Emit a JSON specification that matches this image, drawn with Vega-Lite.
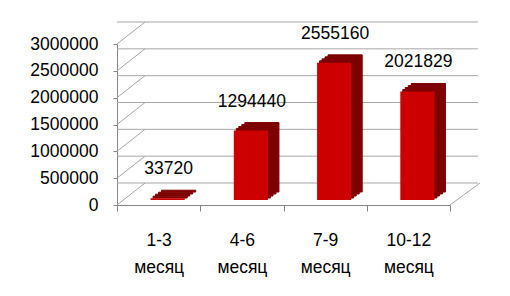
{
  "$schema": "https://vega.github.io/schema/vega-lite/v6.json",
  "width": 333,
  "height": 161,
  "autosize": {"type": "none"},
  "padding": {"left": 117, "top": 44, "right": 60, "bottom": 91},
  "background": "white",
  "config": {
    "view": {"stroke": null},
    "font": "Liberation Sans",
    "axisX": {
      "title": null, "labelAngle": 0, "labelExpr": "split(datum.label, ' ')",
      "labelLineHeight": 27, "labelFontSize": 17.5, "labelColor": "#000000",
      "labelPadding": 20, "labelBaseline": "top",
      "domainColor": "#868686", "tickColor": "#868686", "tickSize": 6, "tickBand": "extent", "grid": false
    },
    "axisY": {
      "title": null, "grid": false, "labelFontSize": 17.5, "labelColor": "#000000", "tickCount": 7, "format": "d",
      "labelPadding": 15, "tickSize": 4, "domainColor": "#868686", "tickColor": "#868686"
    }
  },
  "datasets": {
    "sales": [
      {"period": "1-3 месяц", "value": 33720},
      {"period": "4-6 месяц", "value": 1294440},
      {"period": "7-9 месяц", "value": 2555160},
      {"period": "10-12 месяц", "value": 2021829}
    ],
    "grid": [
      {"tick": 0}, {"tick": 500000}, {"tick": 1000000}, {"tick": 1500000},
      {"tick": 2000000}, {"tick": 2500000}, {"tick": 3000000}
    ]
  },
  "layer": [
    {
      "data": {"name": "grid"},
      "mark": {"type": "rule", "color": "#a6a6a6", "strokeWidth": 1, "xOffset": 28, "x2Offset": 30, "yOffset": -22},
      "encoding": {
        "y": {"field": "tick", "type": "quantitative", "scale": {"domain": [0, 3000000], "nice": false},
              "axis": {"title": null, "values": [0, 500000, 1000000, 1500000, 2000000, 2500000, 3000000], "format": "d"}}
      }
    },
    {
      "data": {"name": "grid"},
      "mark": {"type": "rule", "color": "#a6a6a6", "strokeWidth": 1, "x2Offset": 28, "y2Offset": -22},
      "encoding": {
        "x": {"datum": "1-3 месяц", "bandPosition": 0, "type": "nominal",
              "scale": {"domain": ["1-3 месяц", "4-6 месяц", "7-9 месяц", "10-12 месяц"], "paddingInner": 0, "paddingOuter": 0}},
        "x2": {"datum": "1-3 месяц", "bandPosition": 0},
        "y": {"field": "tick", "type": "quantitative"},
        "y2": {"field": "tick"}
      }
    },
    {
      "data": {"name": "grid"},
      "transform": [{"filter": "datum.tick == 0"}],
      "mark": {"type": "rule", "color": "#a6a6a6", "strokeWidth": 1, "x2Offset": 30, "y2Offset": -22},
      "encoding": {
        "x": {"datum": "10-12 месяц", "bandPosition": 1, "type": "nominal"},
        "x2": {"datum": "10-12 месяц", "bandPosition": 1},
        "y": {"field": "tick", "type": "quantitative"},
        "y2": {"field": "tick"}
      }
    },
    {
      "data": {"name": "sales"},
      "mark": {"type": "bar", "color": "#7d0000", "stroke": "#7d0000", "strokeWidth": 1, "width": {"band": 0.41}, "xOffset": 20, "yOffset": -13, "y2Offset": -13},
      "encoding": {
        "x": {"field": "period", "type": "nominal", "title": null},
        "y": {"field": "value", "type": "quantitative", "title": null}
      }
    },
    {
      "data": {"name": "sales"},
      "mark": {"type": "bar", "color": "#7d0000", "stroke": "#7d0000", "strokeWidth": 1, "width": {"band": 0.41}, "xOffset": 17, "yOffset": -11, "y2Offset": -11},
      "encoding": {
        "x": {"field": "period", "type": "nominal", "title": null},
        "y": {"field": "value", "type": "quantitative", "title": null}
      }
    },
    {
      "data": {"name": "sales"},
      "mark": {"type": "bar", "color": "#7d0000", "stroke": "#7d0000", "strokeWidth": 1, "width": {"band": 0.41}, "xOffset": 14, "yOffset": -9, "y2Offset": -9},
      "encoding": {
        "x": {"field": "period", "type": "nominal", "title": null},
        "y": {"field": "value", "type": "quantitative", "title": null}
      }
    },
    {
      "data": {"name": "sales"},
      "mark": {"type": "bar", "color": "#7d0000", "stroke": "#7d0000", "strokeWidth": 1, "width": {"band": 0.41}, "xOffset": 11.5, "yOffset": -7, "y2Offset": -7},
      "encoding": {
        "x": {"field": "period", "type": "nominal", "title": null},
        "y": {"field": "value", "type": "quantitative", "title": null}
      }
    },
    {
      "data": {"name": "sales"},
      "mark": {"type": "bar", "color": "#cc0000", "width": {"band": 0.41}, "xOffset": 9, "yOffset": -5, "y2Offset": -5},
      "encoding": {
        "x": {"field": "period", "type": "nominal", "title": null},
        "y": {"field": "value", "type": "quantitative", "title": null}
      }
    },
    {
      "data": {"name": "sales"},
      "mark": {"type": "text", "fontSize": 17.5, "color": "#000000", "baseline": "middle", "align": "center", "xOffset": 10, "yOffset": -34},
      "encoding": {
        "x": {"field": "period", "type": "nominal", "title": null},
        "y": {"field": "value", "type": "quantitative", "title": null},
        "text": {"field": "value", "type": "quantitative", "format": "d"}
      }
    }
  ]
}
